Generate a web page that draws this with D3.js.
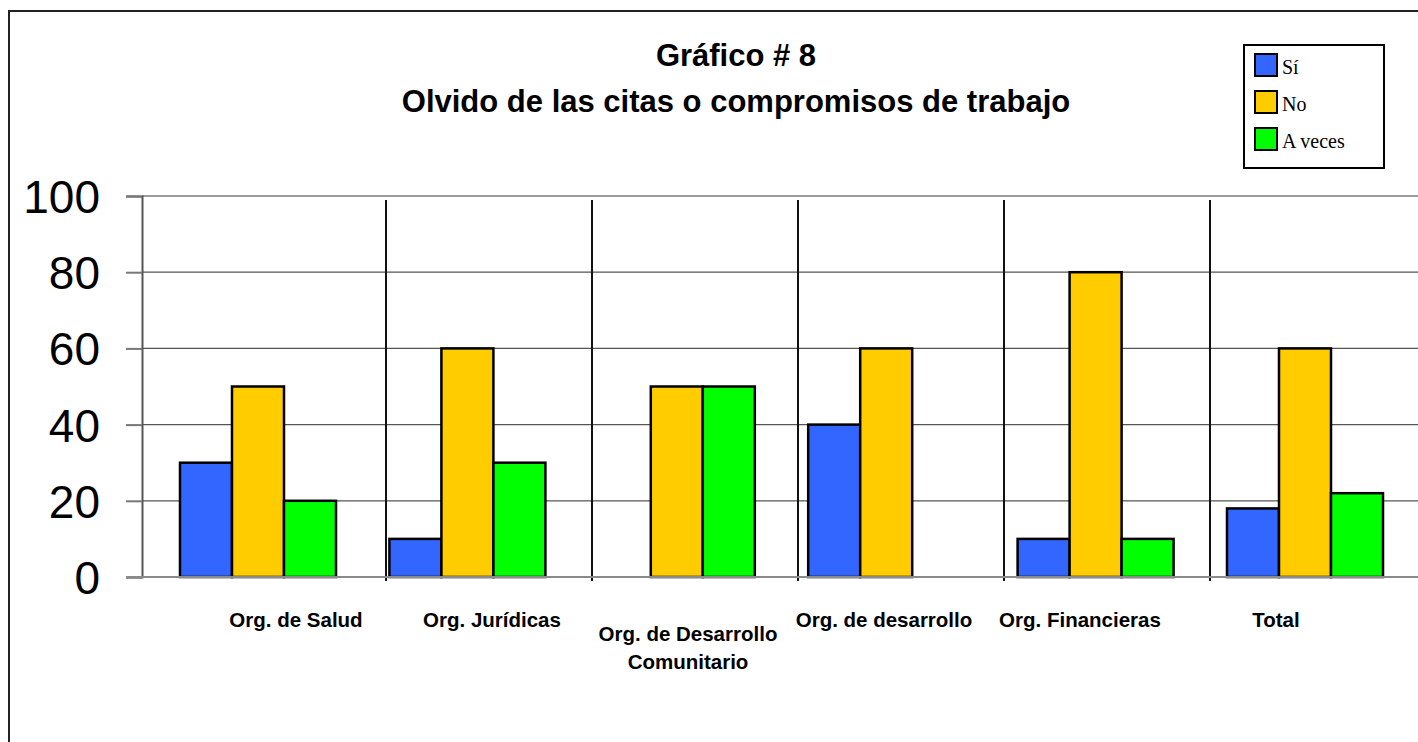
<!DOCTYPE html>
<html>
<head>
<meta charset="utf-8">
<script src="https://cdn.jsdelivr.net/npm/d3@7"></script>
<style>
  html, body { margin: 0; padding: 0; background: #fff; }
  svg { display: block; }
</style>
</head>
<body>
<svg id="chart" width="1418" height="742"></svg>
<script>
const categories = [["Org. de Salud"], ["Org. Jurídicas"], ["Org. de Desarrollo", "Comunitario"], ["Org. de desarrollo"], ["Org. Financieras"], ["Total"]];
const seriesNames = ["Sí", "No", "A veces"];
const siValues = [30, 10, 0, 40, 10, 18];
const noValues = [50, 60, 50, 60, 80, 60];
const aVecesValues = [20, 30, 50, 0, 10, 22];
const yTicks = [0, 20, 40, 60, 80, 100];
const colors = ["#3366FF", "#FFCC00", "#00FF00"];
const titleLines = ["Gráfico # 8", "Olvido de las citas o compromisos de trabajo"];

const series = [siValues, noValues, aVecesValues];
const svg = d3.select("#chart");
const idx = d3.range(categories.length);

// outer frame
svg.append("rect").attr("x", 9).attr("y", 11).attr("width", 1430).attr("height", 760)
  .attr("fill", "none").attr("stroke", "#222").attr("stroke-width", 2);

const y = d3.scaleLinear().domain([0, 100]).range([577, 196]);
const x0 = d3.scaleBand().domain(idx).range([153.3, 1409.7]).paddingInner(0.255).paddingOuter(0.1275);
const x1 = d3.scaleBand().domain(d3.range(3)).range([0, x0.bandwidth()]);
const sep = d3.scaleLinear().domain([0, 1]).range([180, 386]);
const labelX = d3.scalePoint().domain(idx).range([296, 1276]);

const plotLeft = 142, plotRight = 1418;

// gridlines
svg.append("g").selectAll("line").data(yTicks.filter(d => d > 0)).join("line")
  .attr("x1", plotLeft).attr("x2", plotRight)
  .attr("y1", d => y(d)).attr("y2", d => y(d))
  .attr("stroke", d => d === 100 ? "#9a9a9a" : "#555")
  .attr("stroke-width", d => d === 100 ? 2 : 1.3);

// category separators
svg.append("g").selectAll("line").data(d3.range(1, categories.length)).join("line")
  .attr("x1", d => sep(d)).attr("x2", d => sep(d))
  .attr("y1", 200).attr("y2", 581)
  .attr("stroke", "#111").attr("stroke-width", 2);

// y axis
const yAxis = d3.axisLeft(y).tickValues(yTicks).tickSize(16).tickPadding(26);
const gy = svg.append("g").attr("transform", `translate(${plotLeft},0)`).call(yAxis);
gy.select(".domain").attr("stroke", "#555").attr("stroke-width", 2);
gy.selectAll(".tick line").attr("stroke", "#777").attr("stroke-width", 2);
gy.selectAll(".tick text").attr("font-family", "Liberation Sans, Arial, sans-serif")
  .attr("font-size", 46).attr("fill", "#000").attr("dy", "0.36em");

// bars
const groups = svg.append("g").selectAll("g").data(idx).join("g")
  .attr("transform", i => `translate(${x0(i)},0)`);
groups.selectAll("rect").data(i => series.map((s, k) => ({k, v: s[i]})).filter(d => d.v > 0)).join("rect")
  .attr("x", d => x1(d.k)).attr("width", x1.bandwidth())
  .attr("y", d => y(d.v)).attr("height", d => y(0) - y(d.v))
  .attr("fill", d => colors[d.k]).attr("stroke", "#000").attr("stroke-width", 2.5);

// baseline axis
svg.append("line").attr("x1", 126).attr("x2", plotRight).attr("y1", y(0)).attr("y2", y(0))
  .attr("stroke", "#8a8a8a").attr("stroke-width", 2);

// category labels
const lab = svg.append("g").selectAll("text").data(idx).join("text")
  .attr("x", i => labelX(i))
  .attr("y", i => categories[i].length > 1 ? 634 : 620)
  .attr("text-anchor", "middle")
  .attr("font-family", "Liberation Sans, Arial, sans-serif")
  .attr("font-weight", "bold").attr("font-size", 20.5);
lab.selectAll("tspan").data(i => categories[i]).join("tspan")
  .attr("x", function() { return d3.select(this.parentNode).attr("x"); })
  .attr("dy", (d, j) => j === 0 ? "0.35em" : "1.37em")
  .text(d => d);

// title
svg.append("g").selectAll("text").data(titleLines).join("text")
  .attr("x", 736).attr("y", (d, i) => i === 0 ? 66 : 112)
  .attr("text-anchor", "middle")
  .attr("font-family", "Liberation Sans, Arial, sans-serif")
  .attr("font-weight", "bold").attr("font-size", 31)
  .text(d => d);

// legend
const leg = svg.append("g");
leg.append("rect").attr("x", 1244).attr("y", 45).attr("width", 140).attr("height", 123)
  .attr("fill", "#fff").attr("stroke", "#000").attr("stroke-width", 2);
const li = leg.selectAll("g").data(seriesNames).join("g")
  .attr("transform", (d, i) => `translate(1255,${54 + i * 37})`);
li.append("rect").attr("width", 22).attr("height", 22)
  .attr("fill", (d, i) => colors[i]).attr("stroke", "#000").attr("stroke-width", 2);
li.append("text").attr("x", 27).attr("y", 20)
  .attr("font-family", "Liberation Serif, Times New Roman, serif").attr("font-size", 20)
  .text(d => d);
</script>
</body>
</html>
